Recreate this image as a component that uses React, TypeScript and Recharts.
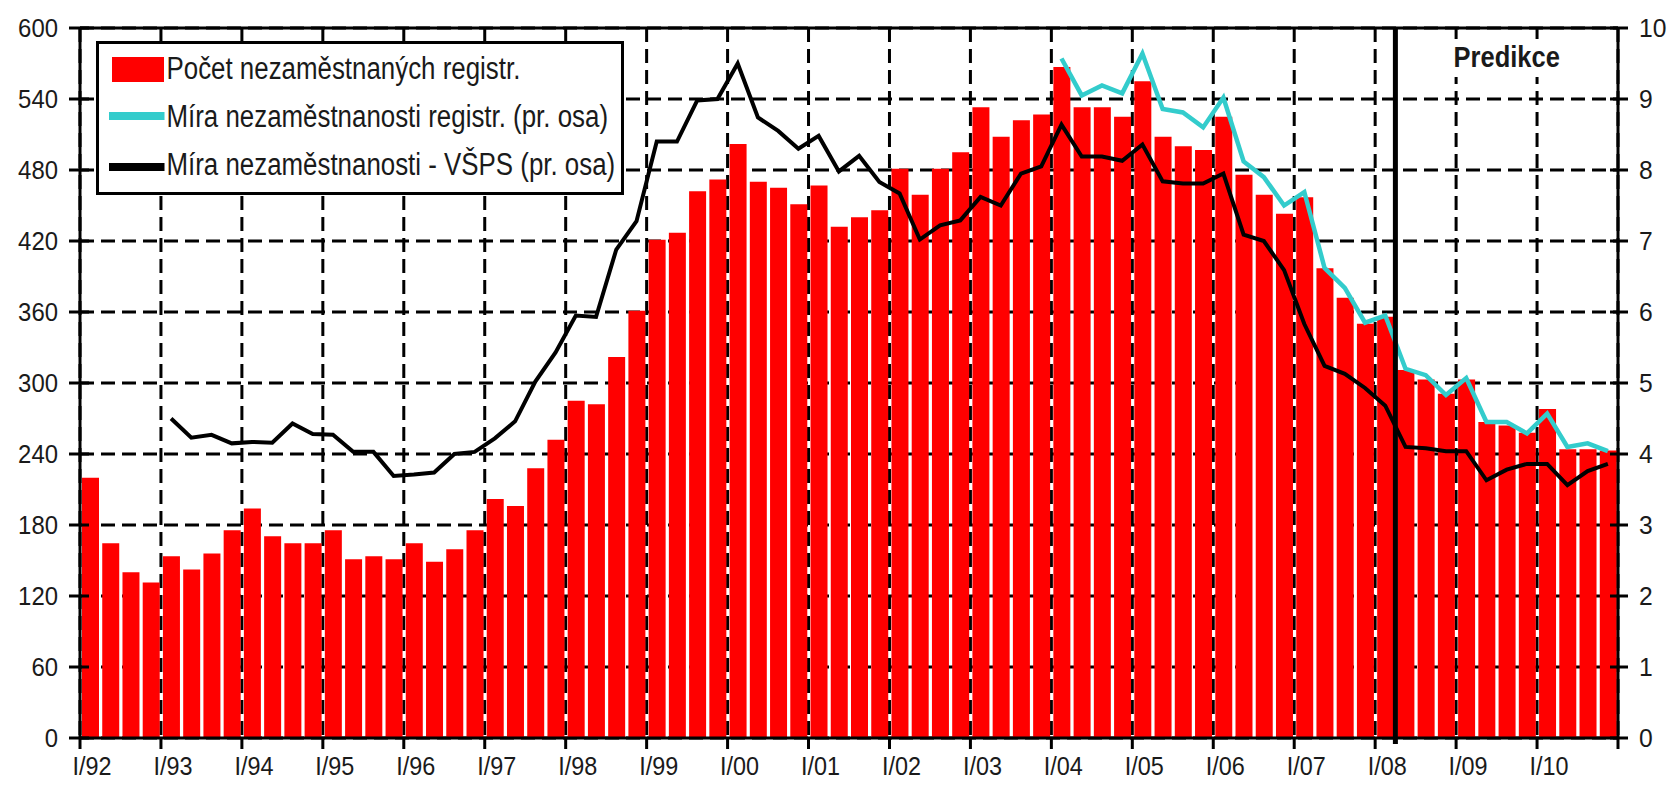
import React from 'react';
import {
  ComposedChart,
  Bar,
  Line,
  XAxis,
  YAxis,
  CartesianGrid,
  ReferenceLine,
  ReferenceArea,
  Legend,
} from 'recharts';

// ---------- data ----------
const yearLabels = [
  'I/92', 'I/93', 'I/94', 'I/95', 'I/96', 'I/97', 'I/98', 'I/99', 'I/00', 'I/01',
  'I/02', 'I/03', 'I/04', 'I/05', 'I/06', 'I/07', 'I/08', 'I/09', 'I/10',
];

const leftTicks = [0, 60, 120, 180, 240, 300, 360, 420, 480, 540, 600];
const rightTicks = [0, 1, 2, 3, 4, 5, 6, 7, 8, 9, 10];

const seriesNames = [
  'Počet nezaměstnaných registr.',
  'Míra nezaměstnanosti registr. (pr. osa)',
  'Míra nezaměstnanosti - VŠPS (pr. osa)',
];

const predictionLabel = 'Predikce';
const predictionStart = 65; // boundary after I/08 (quarter index)

// Počet nezaměstnaných registr. (thousands), quarterly I/92 .. IV/10
const pocetRegistr = [
  220, 164.5, 140, 131.5,
  153.5, 142.5, 156, 175.5,
  194, 170.5, 164.5, 164.5,
  175.5, 151, 153.5, 151,
  164.5, 149, 159.5, 175.5,
  202, 196, 228, 252,
  285, 282, 322, 361,
  421, 427, 462, 472,
  502, 470, 465, 451,
  467, 432, 440, 446,
  481, 459, 481, 495,
  533, 508, 522, 527,
  567, 533, 533, 525,
  555, 508, 500, 497,
  525, 476, 459, 443,
  457, 397, 372, 350,
  356, 311, 303, 291,
  303, 267, 264, 258,
  278, 244, 244, 243,
];

// Míra nezaměstnanosti registr. (%), from I/04
const miraRegistrStart = 48;
const miraRegistr = [
  9.57, 9.05, 9.19, 9.08,
  9.64, 8.86, 8.81, 8.6,
  9.02, 8.12, 7.9, 7.5,
  7.69, 6.62, 6.34, 5.85,
  5.95, 5.2, 5.11, 4.83,
  5.07, 4.45, 4.45, 4.29,
  4.57, 4.1, 4.15, 4.04,
];

// Míra nezaměstnanosti - VŠPS (%), from I/93
const miraVspsStart = 4;
const miraVsps = [
  4.5, 4.23, 4.27, 4.15,
  4.17, 4.16, 4.43, 4.28,
  4.27, 4.03, 4.03, 3.69,
  3.71, 3.74, 4.0, 4.03,
  4.22, 4.46, 5.02, 5.43,
  5.95, 5.93, 6.88, 7.28,
  8.4, 8.4, 8.98, 9.0,
  9.5, 8.74, 8.55, 8.3,
  8.48, 7.98, 8.2, 7.83,
  7.67, 7.02, 7.22, 7.29,
  7.62, 7.5, 7.95, 8.05,
  8.64, 8.19, 8.19, 8.13,
  8.36, 7.84, 7.81, 7.81,
  7.95, 7.09, 7.0, 6.59,
  5.83, 5.24, 5.13, 4.93,
  4.68, 4.1, 4.08, 4.04,
  4.04, 3.63, 3.78, 3.86,
  3.86, 3.56, 3.76, 3.86,
];

const rows = pocetRegistr.map((v, i) => ({
  x: i + 0.5,
  pocet: v,
  registr: i >= miraRegistrStart ? miraRegistr[i - miraRegistrStart] : null,
  vsps: i >= miraVspsStart ? miraVsps[i - miraVspsStart] : null,
}));

const yearTicks = yearLabels.map((_, k) => k * 4).concat([yearLabels.length * 4]);

// ---------- styling helpers ----------
const FONT = '"Liberation Sans", Arial, Helvetica, sans-serif';
const TEXT = '#1a1a1a';

const LeftTick = (props: any) => {
  const { x, y, payload } = props;
  return (
    <g>
      <line x1={x - 11} x2={x + 9} y1={y} y2={y} stroke="#000" strokeWidth={3} />
      <text
        transform={`translate(${x - 22},${y}) scale(0.92,1)`}
        textAnchor="end"
        dy="0.36em"
        fontSize={26}
        fontFamily={FONT}
        fill={TEXT}
      >
        {payload.value}
      </text>
    </g>
  );
};

const RightTick = (props: any) => {
  const { x, y, payload } = props;
  return (
    <g>
      <line x1={x - 8} x2={x + 10} y1={y} y2={y} stroke="#000" strokeWidth={3} />
      <text
        transform={`translate(${x + 21},${y}) scale(0.95,1)`}
        textAnchor="start"
        dy="0.36em"
        fontSize={26}
        fontFamily={FONT}
        fill={TEXT}
      >
        {payload.value}
      </text>
    </g>
  );
};

const BottomTick = (props: any) => {
  const { x, y, payload } = props;
  const label = yearLabels[Math.round(payload.value / 4)];
  return (
    <g>
      <line x1={x} x2={x} y1={y} y2={y + 11} stroke="#000" strokeWidth={3} />
      {label ? (
        <text
          transform={`translate(${x + 12},${y + 37}) scale(0.9,1)`}
          textAnchor="middle"
          fontSize={26}
          fontFamily={FONT}
          fill={TEXT}
        >
          {label}
        </text>
      ) : null}
    </g>
  );
};

const PredikceLabel = (props: any) => {
  const vb = props.viewBox || {};
  const cx = vb.x + vb.width / 2;
  const top = vb.y;
  return (
    <g>
      <rect x={cx - 56} y={top + 11} width={112} height={38} fill="#fff" />
      <text
        transform={`translate(${cx},${top + 39}) scale(0.85,1)`}
        textAnchor="middle"
        fontSize={30}
        fontWeight="bold"
        fontFamily={FONT}
        fill={TEXT}
      >
        {predictionLabel}
      </text>
    </g>
  );
};

const LegendBox = () => (
  <svg width={528} height={154} style={{ display: 'block' }}>
    <rect x={1.5} y={1.5} width={525} height={151} fill="#fff" stroke="#000" strokeWidth={3} />
    <rect x={16} y={16} width={52} height={25} fill="#ff0000" />
    <text
      transform="translate(70.5,38) scale(0.835,1)"
      fontSize={31}
      fontFamily={FONT}
      fill={TEXT}
    >
      {seriesNames[0]}
    </text>
    <line x1={13} x2={68.5} y1={75} y2={75} stroke="#33cccc" strokeWidth={8} />
    <text
      transform="translate(70.5,86) scale(0.835,1)"
      fontSize={31}
      fontFamily={FONT}
      fill={TEXT}
    >
      {seriesNames[1]}
    </text>
    <line x1={13} x2={68.5} y1={126} y2={126} stroke="#000" strokeWidth={8} />
    <text
      transform="translate(70.5,134) scale(0.835,1)"
      fontSize={31}
      fontFamily={FONT}
      fill={TEXT}
    >
      {seriesNames[2]}
    </text>
  </svg>
);

export default function App() {
  return (
    <div style={{ position: 'absolute', left: 0, top: 0, width: 1673, height: 798, background: '#fff' }}>
      <ComposedChart
        width={1673}
        height={798}
        data={rows}
        margin={{ top: 28, right: 0, bottom: 0, left: 0 }}
      >
        <CartesianGrid
          yAxisId="left"
          stroke="#000"
          strokeWidth={3}
          strokeDasharray="14 7"
        />
        <XAxis
          dataKey="x"
          type="number"
          domain={[0, 76]}
          ticks={yearTicks}
          interval={0}
          height={60}
          axisLine={{ stroke: '#000', strokeWidth: 3 }}
          tickLine={false}
          tickSize={0}
          tickMargin={0}
          tick={<BottomTick />}
        />
        <YAxis
          yAxisId="left"
          orientation="left"
          width={80}
          domain={[0, 600]}
          ticks={leftTicks}
          interval={0}
          axisLine={{ stroke: '#000', strokeWidth: 3 }}
          tickLine={false}
          tickSize={0}
          tickMargin={0}
          tick={<LeftTick />}
        />
        <YAxis
          yAxisId="right"
          orientation="right"
          width={55}
          domain={[0, 10]}
          ticks={rightTicks}
          interval={0}
          axisLine={{ stroke: '#000', strokeWidth: 3 }}
          tickLine={false}
          tickSize={0}
          tickMargin={0}
          tick={<RightTick />}
        />
        <Legend
          layout="horizontal"
          verticalAlign="middle"
          align="center"
          wrapperStyle={{ position: 'absolute', left: 96, top: 41, width: 528, height: 154 }}
          content={() => <LegendBox />}
        />
        <Bar
          yAxisId="left"
          dataKey="pocet"
          name={seriesNames[0]}
          fill="#ff0000"
          barSize={17}
          isAnimationActive={false}
        />
        <Line
          yAxisId="right"
          dataKey="registr"
          name={seriesNames[1]}
          type="linear"
          stroke="#33cccc"
          strokeWidth={4.5}
          dot={false}
          activeDot={false}
          isAnimationActive={false}
        />
        <Line
          yAxisId="right"
          dataKey="vsps"
          name={seriesNames[2]}
          type="linear"
          stroke="#000"
          strokeWidth={4}
          dot={false}
          activeDot={false}
          isAnimationActive={false}
        />
        <ReferenceLine yAxisId="left" y={600} stroke="#000" strokeWidth={3} />
        <ReferenceArea
          yAxisId="left"
          x1={predictionStart}
          x2={76}
          y1={0}
          y2={600}
          fill="none"
          fillOpacity={0}
          stroke="none"
          label={<PredikceLabel />}
        />
        <ReferenceLine
          yAxisId="left"
          segment={[{ x: predictionStart, y: -5 }, { x: predictionStart, y: 600 }]}
          ifOverflow="visible"
          stroke="#000"
          strokeWidth={5}
        />
      </ComposedChart>
    </div>
  );
}
